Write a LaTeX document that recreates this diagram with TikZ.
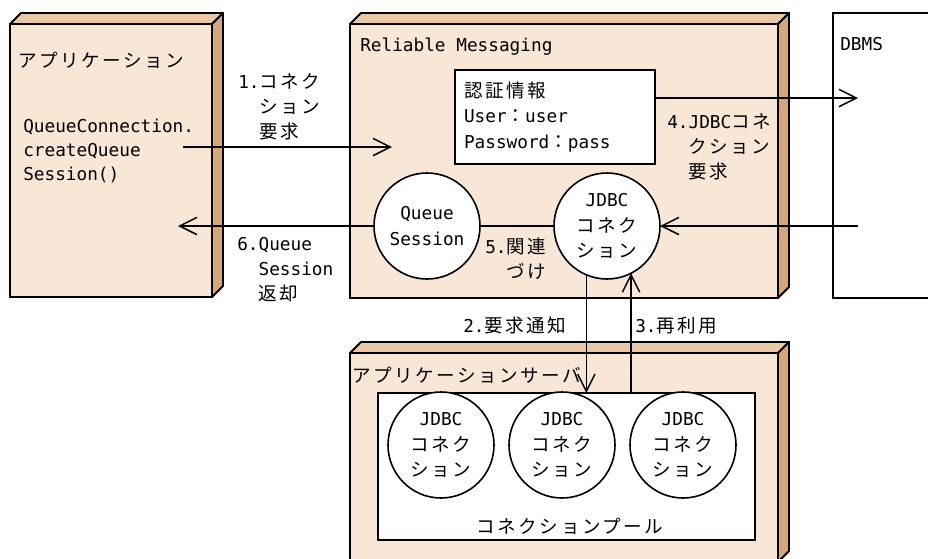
\documentclass[tikz,border=0pt]{standalone}
\usepackage{fontspec}
\setmainfont{DejaVu Sans Mono}
\newfontfamily\jpfont{Noto Sans CJK JP}[Scale=1.045,LetterSpace=13.5]
\usepackage{tikz}
\usetikzlibrary{arrows.meta,positioning}

\definecolor{boxfront}{RGB}{248,230,215}
\definecolor{boxtop}{RGB}{234,200,166}
\definecolor{boxside}{RGB}{213,166,122}

% top and right faces of a block node
\newcommand\boxdepth[1]{%
  \draw[face, fill=boxtop] (#1.north west) -- ([shift={(11,-11)}]#1.north west)
    -- ([shift={(11,-11)}]#1.north east) -- (#1.north east) -- cycle;
  \draw[face, fill=boxside] (#1.north east) -- ([shift={(11,-11)}]#1.north east)
    -- ([shift={(11,-11)}]#1.south east) -- (#1.south east) -- cycle;
}
\newcommand\steplabel[2]{\begin{tabular}[t]{@{}l@{}l@{}}#1&#2\end{tabular}}

\begin{document}
\begin{tikzpicture}[
  x=0.75pt, y=-0.75pt,
  font=\fontsize{13.3pt}{19pt}\selectfont,
  face/.style={line width=1.4pt, line join=round},
  block/.style={draw, fill=boxfront, line width=1.4pt, anchor=north west, inner sep=0pt, outer sep=0pt},
  plain/.style={draw, fill=white, line width=1.4pt, anchor=north west, inner sep=0pt, outer sep=0pt},
  conn/.style={draw, circle, fill=white, line width=1.2pt, minimum size=79.5pt, inner sep=0pt, outer sep=0pt, align=center},
  txt/.style={inner sep=0pt, anchor=base west},
  arrow/.style={-{Straight Barb[length=13pt, width=13pt]}, line width=1.1pt}
]
\useasboundingbox (0,0) rectangle (928,558);
\clip (0,0) rectangle (928,558);

% blocks
\node[block, minimum width=151.5pt, minimum height=204.75pt] (app) at (10,24) {};
\boxdepth{app}
\node[block, minimum width=321pt, minimum height=205.5pt] (rm) at (350,24) {};
\boxdepth{rm}
\node[block, minimum width=321pt, minimum height=156.75pt] (srv) at (350,353) {};
\boxdepth{srv}
\node[plain, minimum width=80.25pt, minimum height=213.75pt] (dbms) at (833,13) {};
\node[plain, minimum width=282.75pt, minimum height=110.25pt] (pool) at (378,393) {};

% titles
\node[txt] (apptitle) at (18,67) {\jpfont アプリケーション};
\node[txt, font=\fontsize{13.3pt}{18pt}\selectfont] (call) at (23,132)
  {\begin{tabular}[t]{@{}l@{}}QueueConnection.\\createQueue\\Session()\end{tabular}};
\node[txt] (rmtitle) at (360,51) {Reliable Messaging};
\node[txt] (dbmstitle) at (840,50) {DBMS};
\node[txt] (srvtitle) at (352,382) {\jpfont アプリケーションサーバ};

\node[plain, minimum height=70.5pt, text width=136.5pt, inner xsep=6.75pt, align=left] (auth) at (455,70)
  {{\jpfont 認証情報}\\User{\jpfont ：}user\\Password{\jpfont ：}pass};

% connections
\node[conn] (qs) at (427,226) {Queue\\Session};
\node[conn] (jdbc) at (607,226) {JDBC\\{\jpfont コネク}\\{\jpfont ション}};
\node[conn] (pc1) at (441,445) {JDBC\\{\jpfont コネク}\\{\jpfont ション}};
\node[conn, right=11.25pt of pc1] (pc2) {JDBC\\{\jpfont コネク}\\{\jpfont ション}};
\node[conn, right=11.25pt of pc2] (pc3) {JDBC\\{\jpfont コネク}\\{\jpfont ション}};
\node (pooltitle) at (570,526) {\jpfont コネクションプール};

% step labels
\node[txt] (s1) at (238,88) {\steplabel{1.}{\jpfont コネク\\&\jpfont ション\\&\jpfont 要求}};
\node[txt] (s2) at (463,332) {2.{\jpfont 要求通知}};
\node[txt] (s3) at (635,332) {3.{\jpfont 再利用}};
\node[txt] (s4) at (667,128) {\steplabel{4.}{JDBC{\jpfont コネ}\\&\jpfont クション\\&\jpfont 要求}};
\node[txt] (s5) at (485,253) {\steplabel{5.}{\jpfont 関連\\&\jpfont づけ}};
\node[txt] (s6) at (237,250) {\steplabel{6.}{Queue\\&Session\\&\jpfont 返却}};

% arrows
\coordinate (c1s) at (183,147);
\coordinate (c1e) at (392,147);
\coordinate (c6e) at (178,226);
\coordinate (c4e) at (858,98);
\coordinate (c4s) at (858,226);
\draw[arrow] (c1s) -- (c1e);
\draw[arrow] (qs.west) -- (c6e);
\draw[line width=1.1pt] (qs.east) -- (jdbc.west);
\draw[arrow] (auth.east |- c4e) -- (c4e);
\draw[arrow] (c4s) -- (jdbc.east);
\draw[arrow] (jdbc.247) -- (jdbc.247 |- pool.north);
\draw[arrow] (jdbc.297 |- pool.north) -- (jdbc.297);
\end{tikzpicture}
\end{document}
